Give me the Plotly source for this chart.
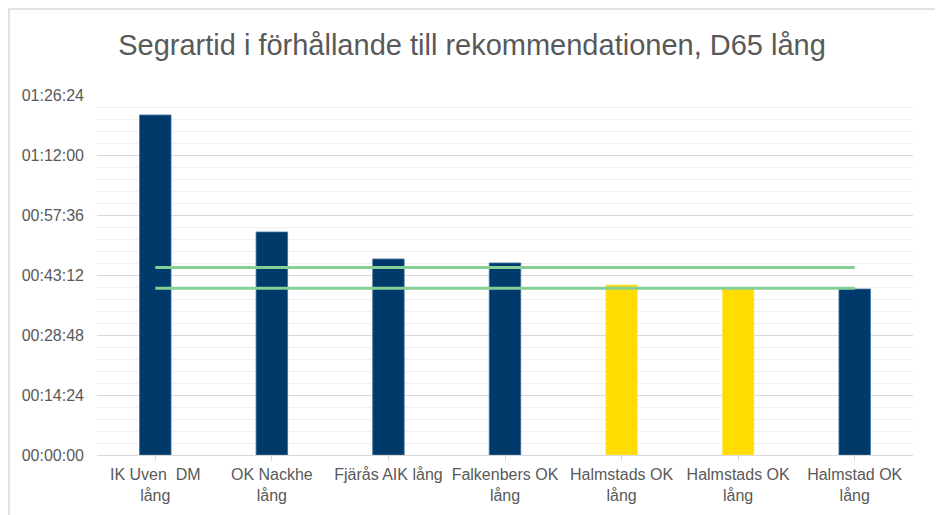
import plotly.graph_objects as go

categories = ["IK Uven  DM<br>lång", "OK Nackhe<br>lång", "Fjärås AIK lång",
              "Falkenbers OK<br>lång", "Halmstads OK<br>lång", "Halmstads OK<br>lång",
              "Halmstad OK<br>lång"]
# winning times in seconds
winning_times = [4896, 3211, 2822, 2765, 2448, 2405, 2390]
bar_colors = ["#003A6B", "#003A6B", "#003A6B", "#003A6B", "#FFDD00", "#FFDD00", "#003A6B"]
bar_edges = ["#3d6e99", "#3d6e99", "#3d6e99", "#3d6e99", "#FFE45C", "#FFE45C", "#3d6e99"]
rec_max = [2700] * 7
rec_min = [2400] * 7
tick_seconds = [0, 864, 1728, 2592, 3456, 4320, 5184]
tick_labels = ["00:00:00", "00:14:24", "00:28:48", "00:43:12", "00:57:36", "01:12:00", "01:26:24"]

xs = list(range(len(categories)))

fig = go.Figure()
fig.add_trace(go.Bar(x=xs, y=winning_times, marker=dict(color=bar_colors, line=dict(width=0.8, color=bar_edges)),
                     width=0.27, showlegend=False))
fig.add_trace(go.Scatter(x=xs, y=rec_max, mode="lines", line=dict(color="#86CF95", width=3), showlegend=False))
fig.add_trace(go.Scatter(x=xs, y=rec_min, mode="lines", line=dict(color="#86CF95", width=3), showlegend=False))

# page body has an 8px offset
W, H = 935, 507
L, R, T, B = 89, 905, 87, 447
pw, ph = R - L, B - T

fig.update_layout(
    width=W, height=H,
    margin=dict(l=L, r=W - R, t=T, b=H - B),
    paper_bgcolor="white", plot_bgcolor="white",
    font=dict(family="Liberation Sans, Arial, sans-serif", color="#595959", size=16),
    title=dict(text="Segrartid i förhållande till rekommendationen, D65 lång",
               x=464 / W, xanchor="center", y=1 - 37 / H, yanchor="middle",
               font=dict(size=29, color="#595959")),
    shapes=[dict(type="rect", xref="paper", yref="paper",
                 x0=(1 - L) / pw, x1=(932 - L) / pw,
                 y0=(B - 530) / ph, y1=(B - 1) / ph,
                 line=dict(color="#d9d9d9", width=1.5), fillcolor="rgba(0,0,0,0)", layer="below")],
)
fig.update_xaxes(
    tickmode="array", tickvals=xs, ticktext=categories,
    range=[-0.5, 6.5], showgrid=False,
    showline=True, linecolor="#d9d9d9", linewidth=1,
    ticks="outside", tickson="boundaries", ticklen=5, tickcolor="#d9d9d9",
    tickfont=dict(size=16, color="#595959"),
)
fig.update_yaxes(
    range=[0, 5184], tickmode="array", tickvals=tick_seconds, ticktext=tick_labels,
    showgrid=True, gridcolor="#d9d9d9", gridwidth=1, zeroline=False,
    tickfont=dict(size=16, color="#595959"), ticks="", ticklabelstandoff=12,
    minor=dict(dtick=172.8, tick0=0, showgrid=True, gridcolor="#f0f0f0", gridwidth=1),
)

fig.write_html("out.html")
